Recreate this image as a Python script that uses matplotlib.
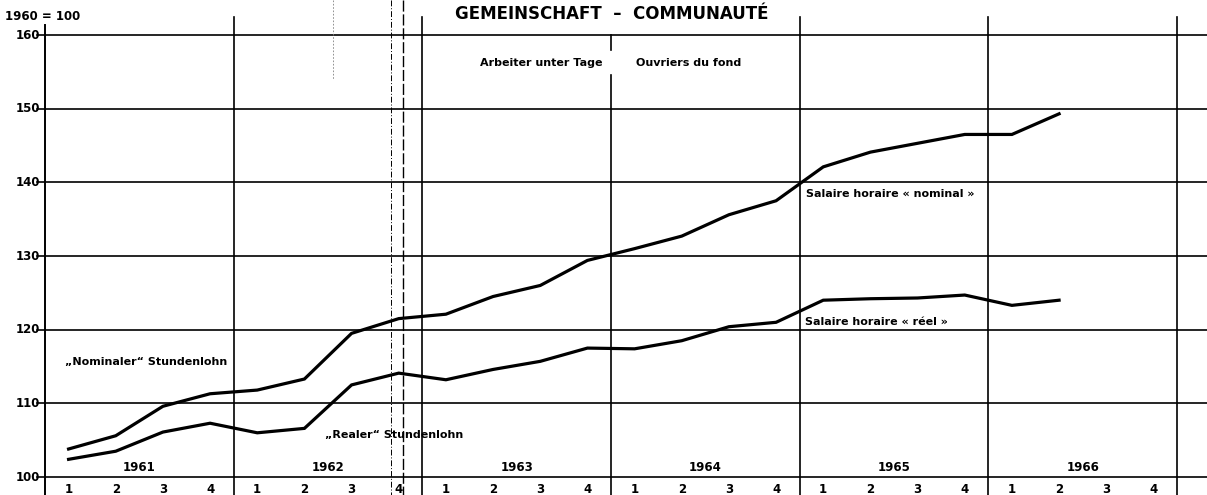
import matplotlib.pyplot as plt

years = ['1961', '1962', '1963', '1964', '1965', '1966']
quarters = ['1', '2', '3', '4']

# index 1960 = 100, quarterly, 1961 Q1 .. 1966 Q2
nominal = [103.8, 105.6, 109.6, 111.3,
           111.8, 113.3, 119.5, 121.5,
           122.1, 124.5, 126.0, 129.4,
           131.0, 132.7, 135.6, 137.5,
           142.1, 144.1, 145.3, 146.5,
           146.5, 149.3]
real = [102.4, 103.5, 106.1, 107.3,
        106.0, 106.6, 112.5, 114.1,
        113.2, 114.6, 115.7, 117.5,
        117.4, 118.5, 120.4, 121.0,
        124.0, 124.2, 124.3, 124.7,
        123.3, 124.0]
yticks = [100, 110, 120, 130, 140, 150, 160]

W, H = 1207, 495
px_q = 1132 / 24.0          # pixels per quarter
px_v = (477 - 35) / 60.0    # pixels per index point

def ypx(p):
    return 100 + (477 - p) / px_v

def xpx(p):
    return (p - 45) / px_q

FONT = 'DejaVu Sans'
fig = plt.figure(figsize=(W / 100, H / 100), dpi=100)
ax = fig.add_axes([45 / W, (H - 477) / H, (W - 45) / W, (477 - 35) / H])
ax.set_xlim(0, xpx(W))
ax.set_ylim(100, 160)
ax.axis('off')

# horizontal grid lines with left ticks
for v in yticks:
    ax.plot([xpx(37), xpx(W)], [v, v], color='black', lw=1.2, clip_on=False)
    ax.text(xpx(40), v, str(v), ha='right', va='center', fontsize=8.5,
            fontweight='bold', family=FONT)

# left axis
ax.plot([0, 0], [ypx(25), ypx(495)], color='black', lw=1.4, clip_on=False)

# year dividers
for i in range(1, 7):
    if i == 3:
        ax.plot([4 * i, 4 * i], [ypx(35), ypx(50)], color='black', lw=1.2, clip_on=False)
        ax.plot([4 * i, 4 * i], [ypx(75), ypx(495)], color='black', lw=1.2, clip_on=False)
    else:
        ax.plot([4 * i, 4 * i], [ypx(17), ypx(495)], color='black', lw=1.2, clip_on=False)

# faint scan lines around 1962 Q4
ax.plot([xpx(391), xpx(391)], [ypx(0), ypx(495)], color='black', lw=0.7,
        ls=(0, (6, 2, 1, 2)), clip_on=False)
ax.plot([xpx(403), xpx(403)], [ypx(0), ypx(495)], color='black', lw=1.0,
        ls=(0, (8, 2)), clip_on=False)
ax.plot([xpx(333), xpx(333)], [ypx(0), ypx(80)], color='gray', lw=0.6,
        ls=(0, (2, 2)), clip_on=False)

# data lines
xs = [i + 0.5 for i in range(len(nominal))]
ax.plot(xs, nominal, color='black', lw=2.3, solid_joinstyle='miter')
ax.plot(xs, real, color='black', lw=2.3, solid_joinstyle='miter')

# year and quarter labels
for i, yr in enumerate(years):
    ax.text(4 * i + 2, ypx(467), yr, ha='center', va='center', fontsize=8.5,
            fontweight='bold', family=FONT)
    for j, q in enumerate(quarters):
        ax.text(4 * i + j + 0.5, ypx(489), q, ha='center', va='center',
                fontsize=8.5, fontweight='bold', family=FONT, clip_on=False)

# annotations
txt = dict(fontsize=8, fontweight='bold', family=FONT, va='center', ha='left')
ax.text(xpx(65), ypx(362), '„Nominaler“ Stundenlohn', **txt)
ax.text(xpx(325), ypx(435), '„Realer“ Stundenlohn', **txt)
ax.text(xpx(806), ypx(194), 'Salaire horaire « nominal »', **txt)
ax.text(xpx(805), ypx(322), 'Salaire horaire « réel »', **txt)
ax.text(xpx(480), ypx(63), 'Arbeiter unter Tage', **txt)
ax.text(xpx(636), ypx(63), 'Ouvriers du fond', **txt)

fig.text(612 / W, 1 - 14 / H, 'GEMEINSCHAFT  –  COMMUNAUTÉ', ha='center', va='center',
         fontsize=12, fontweight='bold', family=FONT)
fig.text(5 / W, 1 - 16 / H, '1960 = 100', ha='left', va='center',
         fontsize=8.5, fontweight='bold', family=FONT)

fig.savefig('out.png', dpi=100)
